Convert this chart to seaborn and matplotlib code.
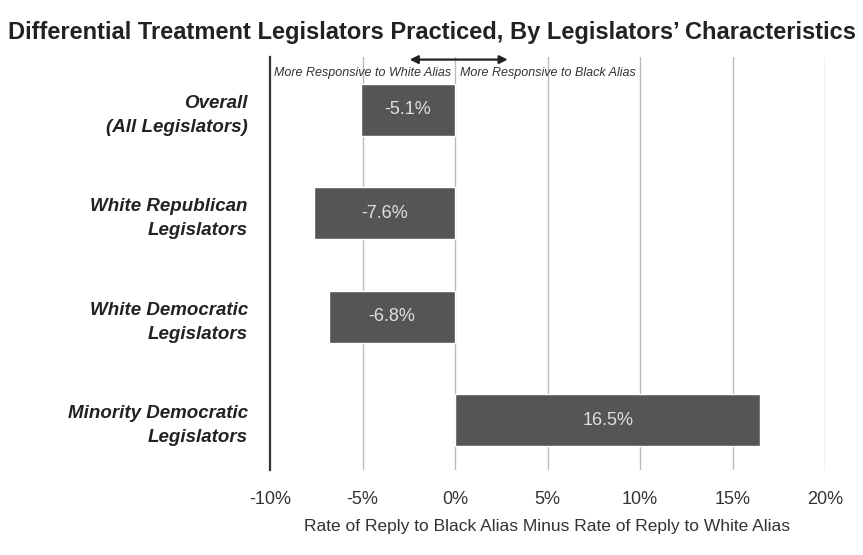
import matplotlib
matplotlib.use("Agg")
import matplotlib.pyplot as plt
import seaborn as sns
import pandas as pd
from matplotlib import font_manager

categories = ["Overall\n(All Legislators)", "White Republican\nLegislators",
              "White Democratic\nLegislators", "Minority Democratic\nLegislators"]
values = [-5.1, -7.6, -6.8, 16.5]
xticks = [-10, -5, 0, 5, 10, 15, 20]
xtick_labels = ["-10%", "-5%", "0%", "5%", "10%", "15%", "20%"]

sns.set_theme(style="white")
names = {f.name for f in font_manager.fontManager.ttflist}
narrow = "Liberation Sans Narrow" if "Liberation Sans Narrow" in names else "Liberation Sans"
plt.rcParams['font.family'] = ['Liberation Sans', 'DejaVu Sans']

df = pd.DataFrame({"cat": categories, "val": values})

fig = plt.figure(figsize=(8.63, 5.55), dpi=100)
ax = fig.add_axes([270/863, 1 - 470/555, (825-270)/863, (470-57)/555])

sns.barplot(data=df, x="val", y="cat", orient="h", color="#555555",
            saturation=1, width=0.5, ax=ax, zorder=2)

ax.set_xlim(-10, 20)
ax.set_ylim(3.48, -0.51)
ax.set_xticks(xticks)
ax.set_xticklabels(xtick_labels, fontsize=13, color="#333333")
for x in xticks[1:]:
    ax.axvline(x, color="#bbbbbb", lw=1, zorder=1)
for s in ["top", "right", "bottom"]:
    ax.spines[s].set_visible(False)
ax.spines["left"].set_color("#333333")
ax.spines["left"].set_linewidth(1.6)
ax.tick_params(axis="x", length=0, pad=15)
ax.tick_params(axis="y", length=0, pad=16)
ax.set_ylabel("")
ax.set_xlabel("Rate of Reply to Black Alias Minus Rate of Reply to White Alias",
              fontsize=12.5, color="#333333", labelpad=8)
for lab in ax.get_yticklabels():
    lab.set_fontweight("bold")
    lab.set_fontstyle("italic")
    lab.set_fontsize(13.5)
    lab.set_color("#222222")
    lab.set_multialignment("right")
    lab.set_linespacing(1.55)

for i, v in enumerate(values):
    ax.text(v / 2, i, f"{v:.1f}%", ha="center", va="center",
            color="#e0e0e0", fontsize=13, zorder=3)

ax.text(-0.2, -0.355, "More Responsive to White Alias", ha="right", va="center",
        fontsize=9, fontstyle="italic", color="#333333", zorder=3)
ax.text(0.25, -0.355, "More Responsive to Black Alias", ha="left", va="center",
        fontsize=9, fontstyle="italic", color="#333333", zorder=3)
ax.annotate("", xy=(-2.6, -0.485), xytext=(3.0, -0.485),
            arrowprops=dict(arrowstyle="<|-|>", color="#222222", lw=1.6,
                            mutation_scale=12), annotation_clip=False)

fig.text(432/863, 1 - 32/555,
         "Differential Treatment Legislators Practiced, By Legislators\u2019 Characteristics",
         ha="center", va="center", fontsize=17, fontweight="bold",
         color="#222222", family=[narrow, "DejaVu Sans"])

fig.savefig("out.png", dpi=100, facecolor="white")
